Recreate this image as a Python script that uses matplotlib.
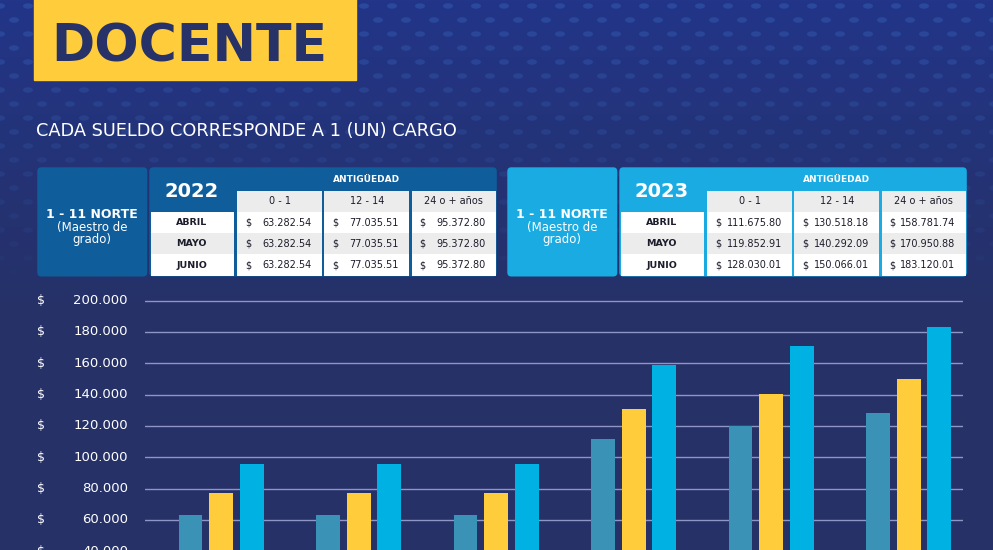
import matplotlib.pyplot as plt
from matplotlib.patches import Rectangle, FancyBboxPatch, Ellipse
import numpy as np

W, H = 993, 550

# datos de las tablas (sueldo por antigüedad)
meses = ["ABRIL", "MAYO", "JUNIO"]
antiguedad = ["0 - 1", "12 - 14", "24 o + años"]
s2022_0_1 = [63282.54, 63282.54, 63282.54]
s2022_12_14 = [77035.51, 77035.51, 77035.51]
s2022_24 = [95372.80, 95372.80, 95372.80]
s2023_0_1 = [111675.80, 119852.91, 128030.01]
s2023_12_14 = [130518.18, 140292.09, 150066.01]
s2023_24 = [158781.74, 170950.88, 183120.01]
y_ticks = [40000, 60000, 80000, 100000, 120000, 140000, 160000, 180000, 200000]

navy = "#263268"
teal = "#3b92b7"
yellow = "#ffcd3c"
cyan = "#00b2e4"
txt_dark = "#1c1c2c"

fig = plt.figure(figsize=(W / 100, H / 100), dpi=100)

# fondo en coordenadas de pixel (y hacia abajo)
bg = fig.add_axes([0, 0, 1, 1])
bg.set_xlim(0, W)
bg.set_ylim(H, 0)
bg.axis("off")

top = np.array([34, 53, 136]) / 255
bottom = np.array([38, 49, 104]) / 255
t = np.clip(np.linspace(0, 1, H) / 0.55, 0, 1)[:, None]
grad = top * (1 - t) + bottom * t
bg.imshow(np.repeat(grad[:, None, :], 2, axis=1), extent=[0, W, H, 0],
          aspect="auto", zorder=0)

# puntitos decorativos del fondo
for r, yy in enumerate(range(6, 300, 14)):
    off = 14 if r % 2 else 0
    a = 0.38 * max(0.0, 1 - yy / 300)
    for xx in range(off, W + 20, 28):
        bg.add_patch(Ellipse((xx, yy), 10, 5.5, color="#3a6cc0", alpha=a,
                             lw=0, zorder=1))

# encabezado
bg.add_patch(Rectangle((34.3, -5), 321.4, 85, color=yellow, zorder=2))
bg.text(51.7, 61.7, "DOCENTE", color=navy, fontsize=37.5, fontweight="bold",
        va="baseline", ha="left", zorder=3)
bg.text(35.7, 136.5, "CADA SUELDO CORRESPONDE A 1 (UN) CARGO", color="white",
        fontsize=12.8, va="baseline", ha="left", zorder=3)


def fmt(v):
    return f"{v:,.2f}".replace(",", ".")


def draw_table(x0, year, color, cols):
    # x0 = borde izquierdo del recuadro "1 - 11 NORTE"
    y_top, y_bot = 167.3, 276.5
    bg.add_patch(FancyBboxPatch((x0, y_top), 110, y_bot - y_top,
                                boxstyle="round,pad=0,rounding_size=4",
                                color=color, lw=0, zorder=2))
    bg.text(x0 + 55, 214, "1 - 11 NORTE", color="white", fontsize=9,
            fontweight="bold", ha="center", va="center", zorder=3)
    bg.text(x0 + 55, 227, "(Maestro de", color="white", fontsize=8.5,
            ha="center", va="center", zorder=3)
    bg.text(x0 + 55, 240, "grado)", color="white", fontsize=8.5,
            ha="center", va="center", zorder=3)

    bx = x0 + 112
    bg.add_patch(FancyBboxPatch((bx, y_top), 347.5, y_bot - y_top,
                                boxstyle="round,pad=0,rounding_size=4",
                                color=color, lw=0, zorder=2))
    bg.text(bx + 42.5, 191.5, year, color="white", fontsize=14,
            fontweight="bold", ha="center", va="center", zorder=3)
    bg.text(bx + 217, 179, "ANTIGÜEDAD", color="white", fontsize=6.5,
            fontweight="bold", ha="center", va="center", zorder=3)

    rows = [(211.7, 232.7), (232.7, 254), (254, 276)]
    fills = ["white", "#ececec", "white"]
    for (a, b), f, m in zip(rows, fills, meses):
        bg.add_patch(Rectangle((bx + 1.2, a), 83.5, b - a, color=f, lw=0, zorder=2.5))
        bg.text(bx + 42.5, (a + b) / 2 + 0.5, m, color=txt_dark, fontsize=6.8,
                fontweight="bold", ha="center", va="center", zorder=3)

    col_x = [(bx + 88, bx + 173), (bx + 175, bx + 260), (bx + 262.4, bx + 346.7)]
    for (cl, cr), lab, vals in zip(col_x, antiguedad, cols):
        bg.add_patch(Rectangle((cl, 190.7), cr - cl, 21, color="#ececec",
                               lw=0, zorder=2.5))
        bg.text((cl + cr) / 2, 201.5, lab, color=txt_dark, fontsize=7,
                ha="center", va="center", zorder=3)
        for (a, b), f, v in zip(rows, fills, vals):
            bg.add_patch(Rectangle((cl, a), cr - cl, b - a, color=f, lw=0,
                                   zorder=2.5))
            yc = (a + b) / 2 + 0.5
            bg.text(cl + 11, yc, "$", color=txt_dark, fontsize=7,
                    ha="center", va="center", zorder=3)
            bg.text(cr - 10.5, yc, fmt(v), color=txt_dark, fontsize=7,
                    ha="right", va="center", zorder=3)


draw_table(37.3, "2022", "#0f5d9b", [s2022_0_1, s2022_12_14, s2022_24])
draw_table(507.3, "2023", "#1aabe2", [s2023_0_1, s2023_12_14, s2023_24])

# grafico de barras
ax = fig.add_axes([145 / W, 0, (963 - 145) / W, 255 / H])
ax.patch.set_alpha(0)
for s in ax.spines.values():
    s.set_visible(False)
ax.set_xticks([])
ax.set_yticks([])
ax.set_xlim(-0.553, 5.396)
ax.set_ylim(40703, 203642)

serie_0_1 = s2022_0_1 + s2023_0_1
serie_12_14 = s2022_12_14 + s2023_12_14
serie_24 = s2022_24 + s2023_24
x = np.arange(len(serie_0_1))
for v in y_ticks:
    ax.axhline(v, color="#8f96c4", lw=1, zorder=1)
ax.bar(x - 0.222, serie_0_1, width=0.172, color=teal, zorder=2)
ax.bar(x, serie_12_14, width=0.175, color=yellow, zorder=2)
ax.bar(x + 0.222, serie_24, width=0.175, color=cyan, zorder=2)

# etiquetas del eje (la de 40.000 queda cortada en el borde, igual que el original)
tr = ax.get_yaxis_transform()
for v in y_ticks:
    ax.text((41 - 145) / 818, v, "$", transform=tr, color="white",
            fontsize=9, ha="center", va="center", clip_on=False)
    ax.text((128 - 145) / 818, v, f"{v:,}".replace(",", "."), transform=tr,
            color="white", fontsize=9.5, ha="right", va="center", clip_on=False)

fig.savefig("out.png", dpi=100)
